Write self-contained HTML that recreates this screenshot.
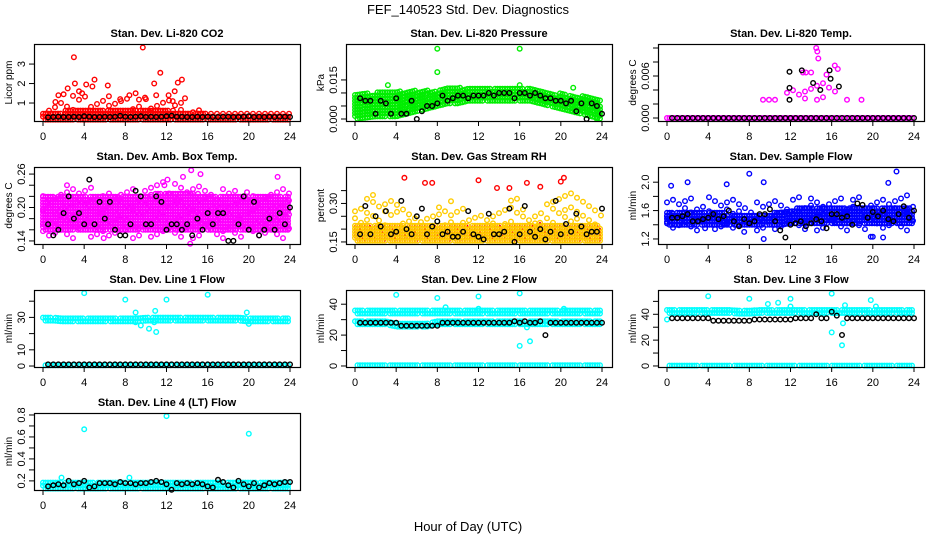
<!DOCTYPE html>
<html><head><meta charset="utf-8"><style>
html,body{margin:0;padding:0;background:#fff;}
svg{display:block;font-family:"Liberation Sans",sans-serif;}
</style></head><body>
<svg id="chart" width="936" height="540" viewBox="0 0 936 540">
<text x="468" y="14" text-anchor="middle" font-size="13">FEF_140523  Std. Dev. Diagnostics</text>
<text x="468" y="531" text-anchor="middle" font-size="13">Hour of Day (UTC)</text>
</svg>
<script>
const hourTicks = [0,4,8,12,16,20,24];
const co2Lo = [0.15,0.15,0.15,0.15,0.15,0.15,0.15,0.15,0.15,0.15,0.15,0.15,0.15,0.15,0.15,0.15,0.15,0.15,0.15,0.15,0.15,0.15,0.15,0.15,0.15];
const co2Hi = [0.45,0.5,0.6,0.65,0.7,0.75,0.75,0.7,0.65,0.7,0.65,0.65,0.65,0.6,0.55,0.5,0.45,0.45,0.45,0.45,0.45,0.45,0.45,0.45,0.45];
const co2Hi2 = [0.5,0.9,1.3,1.5,1.4,1.3,1.2,1.2,1.2,1.4,1.3,1.3,1.2,1.1,0.9,0.8,0.5,0.5,0.5,0.5,0.5,0.5,0.5,0.5,0.5];
const co2Out = [[3,3.35],[9.7,3.85],[11.4,2.55],[10.8,2.0],[13.5,2.2],[13.1,2.05],[6.3,1.9],[5,2.2],[4.2,1.95],[4.8,1.85],[3.1,2.0],[2.4,1.75],[1.2,1.05],[1.5,1.4],[2,1.45],[3.5,1.6],[7.5,1.2],[8.4,1.4],[9,1.5],[10,1.2],[11,1.4],[12.2,1.4],[12.6,1.1],[12.8,1.6],[13.8,1.25],[6.4,1.35],[3.8,1.5]];
const co2Black = [0.26,0.28,0.3,0.28,0.28,0.3,0.28,0.32,0.3,0.28,0.28,0.3,0.28,0.3,0.34,0.3,0.28,0.3,0.32,0.28,0.3,0.28,0.3,0.32,0.35,0.3,0.3,0.28,0.28,0.3,0.28,0.3,0.28,0.28,0.3,0.3,0.28,0.28,0.3,0.32,0.28,0.3,0.28,0.3,0.28,0.3,0.3,0.28];
const presLo = [0,0.0005,0.001,0.001,0.001,0.002,0.003,0.004,0.005,0.006,0.006,0.007,0.007,0.007,0.007,0.007,0.007,0.007,0.006,0.005,0.004,0.003,0.002,0.001,0];
const presHi = [0.010,0.010,0.010,0.011,0.011,0.011,0.011,0.011,0.011,0.012,0.012,0.012,0.012,0.012,0.012,0.012,0.012,0.012,0.011,0.010,0.010,0.009,0.009,0.008,0.007];
const presOut = [[8,0.027],[8,0.018],[16,0.027],[16,0.013],[3.2,0.013],[21.2,0.012],[23.5,0.0]];
const presBlack = [0.008,0.007,0.007,0.002,0.007,0.006,0.002,0.008,0.002,0.002,0.007,0.0,0.003,0.005,0.005,0.006,0.009,0.007,0.008,0.009,0.009,0.008,0.009,0.009,0.009,0.010,0.009,0.010,0.010,0.010,0.008,0.010,0.010,0.009,0.010,0.009,0.008,0.008,0.007,0.007,0.006,0.007,0.003,0.006,0.0,0.006,0.005,0.002];
const tempLo = [0,0,0,0,0,0,0,0,0,0,0,0,0,0,0,0,0,0,0,0,0,0,0,0,0];
const tempHi = [0,0,0,0,0,0,0,0,0,0,0,0,0,0,0,0,0,0,0,0,0,0,0,0,0];
const tempLo2 = [null,null,null,null,null,null,null,null,null,null,0.0026,0.0026,0.0026,0.0026,0.0026,0.0026,0.0026,0.0026,null,null,null,null,null,null,null];
const tempHi2 = [null,null,null,null,null,null,null,null,null,null,0.0026,0.0026,0.0045,0.0055,0.0055,0.0055,0.0055,0.0026,null,null,null,null,null,null,null];
const tempOut = [[14.5,0.010],[14.6,0.0095],[14.7,0.0085],[16.3,0.0075],[16.6,0.007],[13.2,0.0065],[13.5,0.0065],[14,0.0065],[15.5,0.0062],[18.9,0.0026]];
const tempBlack = [0,0,0,0,0,0,0,0,0,0,0,0,0,0,0,0,0,0,0,0,0,0,0,0,0,0,0,0,0,0,0,0,0,0,0,0,0,0,0,0,0,0,0,0,0,0,0,0];
const tempBlackExtra = [[11.9,0.0066],[13.1,0.0068],[11.9,0.0043],[11.9,0.0026],[14.2,0.0050],[14.9,0.0040],[15.8,0.0068],[15.9,0.0056],[16.7,0.0045]];
const ambLo = [0.16,0.16,0.16,0.16,0.16,0.16,0.16,0.16,0.16,0.16,0.16,0.16,0.16,0.16,0.16,0.16,0.16,0.16,0.16,0.16,0.16,0.16,0.16,0.16,0.16];
const ambHi = [0.22,0.22,0.22,0.22,0.22,0.22,0.22,0.22,0.22,0.22,0.22,0.225,0.225,0.225,0.225,0.225,0.22,0.22,0.22,0.22,0.22,0.22,0.22,0.22,0.22];
const ambLo2 = [0.145,0.145,0.145,0.145,0.145,0.145,0.145,0.145,0.145,0.145,0.145,0.145,0.145,0.145,0.145,0.145,0.145,0.145,0.145,0.145,0.145,0.145,0.145,0.145,0.145];
const ambHi2 = [0.235,0.235,0.24,0.245,0.245,0.24,0.235,0.235,0.235,0.235,0.24,0.25,0.245,0.245,0.245,0.25,0.24,0.235,0.235,0.235,0.235,0.235,0.235,0.235,0.235];
const ambOut = [[14.4,0.267],[15.3,0.26],[13.6,0.255],[22.8,0.255],[14.3,0.135],[5.9,0.145],[12.1,0.25],[11.8,0.24]];
const ambBlack = [0.17,0.15,0.16,0.19,0.22,0.18,0.19,0.17,0.25,0.17,0.21,0.18,0.21,0.16,0.15,0.15,0.17,0.23,0.22,0.17,0.17,0.22,0.21,0.16,0.17,0.17,0.16,0.17,0.15,0.18,0.16,0.19,0.17,0.19,0.19,0.14,0.14,0.17,0.22,0.16,0.21,0.15,0.16,0.18,0.16,0.19,0.17,0.20];
const rhLo = [0.155,0.155,0.155,0.155,0.155,0.155,0.155,0.155,0.155,0.155,0.155,0.155,0.155,0.155,0.155,0.155,0.155,0.155,0.155,0.155,0.155,0.155,0.155,0.155,0.155];
const rhHi = [0.215,0.215,0.22,0.215,0.22,0.215,0.215,0.22,0.215,0.215,0.22,0.22,0.215,0.215,0.22,0.22,0.215,0.22,0.225,0.22,0.22,0.22,0.22,0.22,0.215];
const rhHi2 = [0.30,0.33,0.34,0.32,0.30,0.27,0.26,0.28,0.30,0.32,0.30,0.27,0.26,0.25,0.30,0.33,0.32,0.28,0.30,0.34,0.36,0.34,0.33,0.30,0.28];
const rhOut = [[4.8,0.40],[6.8,0.38],[7.5,0.38],[15,0.36],[16.7,0.38],[20,0.385],[20.3,0.40],[18,0.365],[12,0.39],[13.8,0.36]];
const rhBlack = [0.18,0.29,0.18,0.25,0.21,0.27,0.18,0.19,0.31,0.20,0.18,0.25,0.28,0.18,0.21,0.23,0.18,0.19,0.17,0.17,0.19,0.27,0.18,0.17,0.16,0.26,0.18,0.18,0.19,0.28,0.15,0.18,0.29,0.19,0.17,0.20,0.16,0.19,0.31,0.18,0.22,0.19,0.26,0.21,0.18,0.19,0.19,0.28];
const flowLo = [1.4,1.4,1.4,1.4,1.4,1.4,1.4,1.4,1.4,1.4,1.4,1.4,1.42,1.42,1.42,1.42,1.42,1.42,1.42,1.42,1.42,1.42,1.42,1.42,1.42];
const flowHi = [1.6,1.58,1.58,1.6,1.6,1.58,1.56,1.56,1.56,1.55,1.56,1.58,1.62,1.64,1.65,1.65,1.66,1.65,1.64,1.64,1.65,1.65,1.66,1.65,1.64];
const flowLo2 = [1.32,1.32,1.32,1.32,1.32,1.32,1.32,1.32,1.32,1.32,1.32,1.32,1.32,1.32,1.32,1.32,1.32,1.32,1.32,1.32,1.32,1.32,1.32,1.32,1.32];
const flowHi2 = [1.8,1.82,1.82,1.8,1.82,1.82,1.78,1.76,1.72,1.72,1.72,1.76,1.8,1.8,1.78,1.78,1.78,1.82,1.8,1.8,1.82,1.82,1.85,1.85,1.82];
const flowOut = [[0.4,1.95],[2,2.0],[5.8,1.97],[8,2.12],[9.4,2.0],[22.3,2.15],[21.5,1.99],[19.8,1.23],[20,1.23],[21,1.22],[3.7,1.35],[7.5,1.3],[9.4,1.2]];
const flowBlack = [1.5,1.5,1.52,1.55,1.45,1.45,1.48,1.50,1.55,1.48,1.52,1.60,1.45,1.38,1.48,1.42,1.45,1.55,1.55,1.62,1.45,1.32,1.22,1.40,1.42,1.45,1.38,1.42,1.48,1.45,1.35,1.55,1.55,1.50,1.52,1.40,1.70,1.68,1.50,1.58,1.52,1.60,1.48,1.45,1.55,1.66,1.50,1.60];
const l1Lo = [28,28,27.5,27.5,27.5,27.5,27.5,27.5,27.5,27.5,28,28,28,28,28,28,28,28,28,28,27.5,27.5,27.5,27.5,27.5];
const l1Hi = [30.5,30.5,29.5,29.5,30,30,30,29.5,30,30.5,30.5,30.5,30.5,30.5,30.5,30.5,30.5,30.5,30,30,30,29.5,29.5,29.5,29.5];
const l1ZeroLo = [0.5,0.5,0.5,0.5,0.5,0.5,0.5,0.5,0.5,0.5,0.5,0.5,0.5,0.5,0.5,0.5,0.5,0.5,0.5,0.5,0.5,0.5,0.5,0.5,0.5];
const l1ZeroHi = [1.2,1.2,1.2,1.2,1.2,1.2,1.2,1.2,1.2,1.2,1.2,1.2,1.2,1.2,1.2,1.2,1.2,1.2,1.2,1.2,1.2,1.2,1.2,1.2,1.2];
const l1Out = [[4,45],[8,41],[12,41],[16,44],[9,27],[9.5,25],[10.3,23],[11,21],[10.8,27],[19.8,33],[20,26],[9,33],[10.9,34]];
const l1Black = [1,1,1,1,1,1,1,1,1,1,1,1,1,1,1,1,1,1,1,1,1,1,1,1,1,1,1,1,1,1,1,1,1,1,1,1,1,1,1,1,1,1,1,1,1,1,1,1];
const l2Lo = [34,34,34,34,34,34,34,34,34,34,34,34,34,34,34,34,34,34,34,34,34,34,34,34,34];
const l2Hi = [36.5,36.5,36.5,36.5,36.5,36.5,36.5,36.5,36.5,36.5,36.5,36.5,36.5,36.5,36.5,36.5,36.5,36.5,36.5,36.5,36.5,36.5,36.5,36.5,36.5];
const l2Lo2 = [27,27,27,27,25.5,25.5,25.5,25.5,27,27,27,27,27,27,27,27,27,27,27,27,27,27,27,27,27];
const l2Hi2 = [29,29,29,29,27.5,27.5,27.5,27.5,29,29,29,29,29,29,29,29,29,29,29,29,29,29,29,29,29];
const l2Out = [[4,46],[8,44],[12,45],[16,47],[16,13],[17,16],[16.7,25],[20.3,37],[12,37],[8.8,38]];
const l2Black = [28,28,28,28,28,28,28,28,26,26,26,26,26,26,26,26,28,28,28,28,28,28,28,28,28,28,28,28,28,28,29,28,29,28,28,29,20,28,28,28,28,28,28,28,28,28,28,28];
const l3Lo = [41,41,41,41,41,41,41,40.5,40.5,41,41,41,41,41,41,41,41,41,41,41,41,41,41,41,41];
const l3Hi = [44.5,44.5,44.5,44.5,44,44,44,43.5,43.5,44,44,44,44,44.5,44.5,44.5,44.5,44.5,44.5,44.5,44.5,44.5,44.5,44.5,44.5];
const l3ZeroLo = [0.3,0.3,0.3,0.3,0.3,0.3,0.3,0.3,0.3,0.3,0.3,0.3,0.3,0.3,0.3,0.3,0.3,0.3,0.3,0.3,0.3,0.3,0.3,0.3,0.3];
const l3ZeroHi = [1.5,1.5,1.5,1.5,1.5,1.5,1.5,1.5,1.5,1.5,1.5,1.5,1.5,1.5,1.5,1.5,1.5,1.5,1.5,1.5,1.5,1.5,1.5,1.5,1.5];
const l3Out = [[4,54],[8,52],[12,52],[16,56],[16,26],[17,16],[17.1,33],[9.8,48],[10.8,49],[19.8,51],[20.3,46],[12,46],[0,36],[17.3,47]];
const l3Black = [37,37,37,37,37,37,37,37,35,35,35,35,35,35,35,35,36,36,36,36,36,36,36,36,37,37,37,37,40,37,37,42,39,24,37,37,37,37,37,37,37,37,37,37,37,37,37,37];
const l4Lo = [0.13,0.13,0.13,0.13,0.13,0.13,0.13,0.13,0.13,0.13,0.13,0.13,0.13,0.13,0.13,0.13,0.13,0.13,0.13,0.13,0.13,0.13,0.13,0.13,0.13];
const l4Hi = [0.2,0.2,0.21,0.2,0.21,0.2,0.2,0.2,0.21,0.21,0.2,0.2,0.2,0.2,0.2,0.21,0.2,0.2,0.2,0.2,0.2,0.2,0.21,0.2,0.2];
const l4Out = [[4,0.67],[12,0.79],[20,0.63],[1.8,0.23],[8.4,0.23]];
const l4Black = [0.15,0.16,0.17,0.16,0.2,0.17,0.18,0.2,0.14,0.15,0.18,0.18,0.18,0.17,0.19,0.18,0.18,0.17,0.18,0.18,0.19,0.2,0.19,0.17,0.12,0.18,0.17,0.18,0.17,0.18,0.17,0.15,0.14,0.21,0.19,0.16,0.14,0.2,0.17,0.15,0.18,0.14,0.16,0.18,0.17,0.18,0.19,0.19];

const SVGNS = "http://www.w3.org/2000/svg";
const svg = document.getElementById('chart');
function mk(tag, attrs, parent){ const e=document.createElementNS(SVGNS,tag); for(const k in attrs) e.setAttribute(k,attrs[k]); (parent||svg).appendChild(e); return e; }

const colX = [34,346,658], rowY = [44,167,290,413], boxW = 266, boxH = 77;
const panels = [
 {col:0,row:0,title:"Stan. Dev. Li-820 CO2",ylab:"Licor ppm",ymin:0.077,ymax:4.03,ticks:[1,2,3],labels:["1","2","3"],color:"#ff0000",
  bands:[[co2Lo,co2Hi,1],[co2Hi,co2Hi2,0]],out:co2Out,black:co2Black,extra:[]},
 {col:1,row:0,title:"Stan. Dev. Li-820 Pressure",ylab:"kPa",ymin:-0.00077,ymax:0.0288,ticks:[0,0.005,0.01,0.015],labels:["0.000","","","0.015"],color:"#00ee00",
  bands:[[presLo,presHi,1]],out:presOut,black:presBlack,extra:[]},
 {col:2,row:0,title:"Stan. Dev. Li-820 Temp.",ylab:"degrees C",ymin:-0.00043,ymax:0.01057,ticks:[0,0.002,0.004,0.006,0.008,0.01],labels:["0.000","","","0.006","",""],color:"#ff00ff",
  bands:[[tempLo,tempHi,1],[tempLo2,tempHi2,0]],out:tempOut,black:tempBlack,extra:tempBlackExtra},
 {col:0,row:1,title:"Stan. Dev. Amb. Box Temp.",ylab:"degrees C",ymin:0.1345,ymax:0.2727,ticks:[0.14,0.16,0.18,0.2,0.22,0.24,0.26],labels:["0.14","","","0.20","","","0.26"],color:"#ff00ff",
  bands:[[ambLo,ambHi,1],[ambLo2,ambHi2,0]],out:ambOut,black:ambBlack,extra:[]},
 {col:1,row:1,title:"Stan. Dev. Gas Stream RH",ylab:"percent",ymin:0.142,ymax:0.442,ticks:[0.15,0.2,0.25,0.3,0.35],labels:["0.15","","","0.30",""],color:"#ffcc00",stroke2:"#ff0000",
  bands:[[rhLo,rhHi,1],[rhHi,rhHi2,0]],out:rhOut,black:rhBlack,extra:[]},
 {col:2,row:1,title:"Stan. Dev. Sample Flow",ylab:"ml/min",ymin:1.129,ymax:2.214,ticks:[1.2,1.4,1.6,1.8,2.0],labels:["1.2","","1.6","","2.0"],color:"#0000ff",
  bands:[[flowLo,flowHi,1],[flowLo2,flowHi2,0]],out:flowOut,black:flowBlack,extra:[]},
 {col:0,row:2,title:"Stan. Dev. Line 1 Flow",ylab:"ml/min",ymin:-0.6,ymax:46.9,ticks:[0,10,20,30,40],labels:["0","10","","30",""],color:"#00ffff",
  bands:[[l1Lo,l1Hi,1],[l1ZeroLo,l1ZeroHi,1]],out:l1Out,black:l1Black,extra:[]},
 {col:1,row:2,title:"Stan. Dev. Line 2 Flow",ylab:"ml/min",ymin:-0.66,ymax:49.2,ticks:[0,10,20,30,40],labels:["0","","20","","40"],color:"#00ffff",
  bands:[[l2Lo,l2Hi,1],[l2Lo2,l2Hi2,1],[l1ZeroLo,l1ZeroHi,1]],out:l2Out,black:l2Black,extra:[]},
 {col:2,row:2,title:"Stan. Dev. Line 3 Flow",ylab:"ml/min",ymin:-0.8,ymax:58.8,ticks:[0,10,20,30,40,50],labels:["0","","20","","40",""],color:"#00ffff",
  bands:[[l3Lo,l3Hi,1],[l3ZeroLo,l3ZeroHi,1]],out:l3Out,black:l3Black,extra:[]},
 {col:0,row:3,title:"Stan. Dev. Line 4 (LT) Flow",ylab:"ml/min",ymin:0.117,ymax:0.818,ticks:[0.2,0.3,0.4,0.5,0.6,0.7,0.8],labels:["0.2","","0.4","","0.6","","0.8"],color:"#00ffff",
  bands:[[l4Lo,l4Hi,1]],out:l4Out,black:l4Black,extra:[]}
];

function pt(g,x,y,stroke){
  const c = mk('circle',{cx:x.toFixed(1),cy:y.toFixed(1),r:2.3,fill:'none',stroke:stroke,'stroke-width':1.4},g);
  
  
}

panels.forEach((p,pi)=>{
  const slug = p.title.toLowerCase().replace(/[^a-z0-9]+/g,'-').replace(/^-|-$/g,'');
  const bx = colX[p.col], by = rowY[p.row];
  const xs = h => bx + 9 + h*(247/24);
  const ys = v => by + boxH - (v-p.ymin)/(p.ymax-p.ymin)*boxH;
  const g = mk('g',{});
  
  
  const t = mk('text',{x:bx+boxW/2,y:by-7,'text-anchor':'middle','font-size':11,'font-weight':'bold'},g);
  t.textContent = p.title;
  
  
  const interp = (arr,h)=>{ const i=Math.min(23,Math.floor(h)); const a=arr[i], b=arr[i+1]; if(a==null||b==null) return a==null?b:a; return a+(b-a)*(h-i); };
  p.bands.forEach(([lo,hi,dense])=>{
    const stepX = dense?2.5:6, stepY = dense?3:7;
    let k=0;
    for(let px=xs(0); px<=xs(24)+0.1; px+=stepX, k++){
      const h=(px-xs(0))/(247/24);
      const hi_ = Math.min(23.99,h);
      const il=Math.floor(hi_);
      if(lo[il]==null && lo[il+1]==null) continue;
      const l=interp(lo,hi_), u=interp(hi,hi_);
      if(l==null||u==null) continue;
      const y0=ys(l), y1=ys(u);
      const off = dense?((k*3)%3):((k*7)%5)*1.3;
      if(Math.abs(y0-y1)<1){ pt(g,px,y0,p.color); continue; }
      let j=0;
      for(let py=y0-off; py>=y1-0.1; py-=stepY, j++){
        if(!dense && ((k*5+j*3)%7)<3) continue;
        if(dense && ((k*7+j*11)%13)===0) continue;
        pt(g,px,py,p.color);
        if(p.stroke2&&dense) mk('circle',{cx:px.toFixed(1),cy:py.toFixed(1),r:0.9,fill:p.stroke2},g);
      }
    }
  });
  p.out.forEach(o=>pt(g,xs(o[0]),ys(o[1]),p.stroke2||p.color));
  p.black.forEach((v,i)=>{ if(v!=null) pt(g,xs(0.5*(i+1)),ys(v),'#000'); });
  p.extra.forEach(o=>pt(g,xs(o[0]),ys(o[1]),'#000'));
  const r = mk('rect',{x:bx+0.5,y:by+0.5,width:boxW,height:boxH,fill:'none',stroke:'#000','stroke-width':1.2},g);
  
  
  hourTicks.forEach(h=>{
    mk('line',{x1:xs(h),x2:xs(h),y1:by+boxH,y2:by+boxH+5,stroke:'#000'},g);
    const tl = mk('text',{x:xs(h),y:by+boxH+19,'text-anchor':'middle','font-size':11},g);
    tl.textContent = h;
    
    
  });
  mk('line',{x1:xs(0),x2:xs(24),y1:by+boxH+0.5,y2:by+boxH+0.5,stroke:'#000'},g);
  p.ticks.forEach((v,i)=>{
    const y=ys(v);
    mk('line',{x1:bx-5,x2:bx,y1:y,y2:y,stroke:'#000'},g);
    if(p.labels[i]){
      const tl = mk('text',{x:0,y:0,transform:`translate(${bx-9},${y}) rotate(-90)`,'text-anchor':'middle','font-size':11},g);
      tl.textContent = p.labels[i];
      
      
    }
  });
  const yl = mk('text',{x:0,y:0,transform:`translate(${bx-22},${by+boxH/2}) rotate(-90)`,'text-anchor':'middle','font-size':10},g);
  yl.textContent = p.ylab;
  
  
});
</script>
</body></html>
